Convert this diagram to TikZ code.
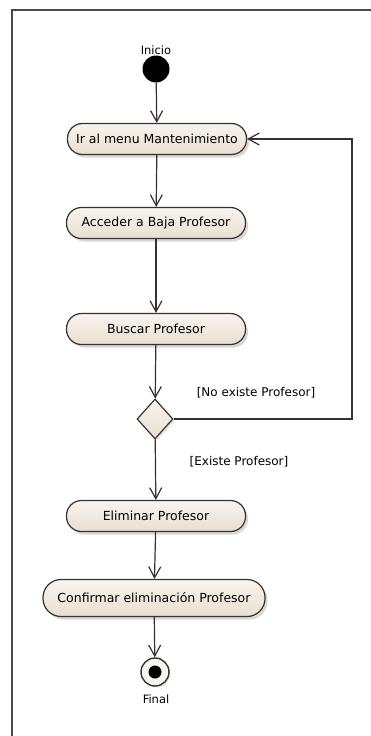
\documentclass[tikz,border=0pt]{standalone}
\usepackage{fontspec}
\setmainfont{DejaVu Sans}
\usetikzlibrary{arrows.meta,shapes.geometric,shadows}

\definecolor{inkline}{HTML}{333333}
\definecolor{beigetop}{HTML}{F8F4EE}
\definecolor{beigebot}{HTML}{E9DFCF}
\definecolor{framegray}{HTML}{4A4A4A}

\tikzset{
  action/.style={draw=inkline, line width=1.2pt, rounded corners=15pt,
    top color=beigetop, bottom color=beigebot,
    drop shadow={shadow xshift=2.5pt, shadow yshift=-3pt, fill=black!30},
    minimum width=179pt, minimum height=31pt, inner sep=0pt,
    font=\fontsize{12.5}{14}\selectfont},
  decision/.style={diamond, draw=inkline, line width=1.2pt,
    top color=beigetop, bottom color=beigebot,
    drop shadow={shadow xshift=2pt, shadow yshift=-2pt, fill=black!22},
    minimum width=36pt, minimum height=40pt, inner sep=0pt},
  flow/.style={draw=inkline, line width=1.2pt,
    -{Straight Barb[length=11pt, width=12pt, line width=1.2pt]}},
  guard/.style={font=\fontsize{12}{14}\selectfont, inner sep=1pt},
  caption/.style={font=\fontsize{11.5}{14}\selectfont, inner sep=1pt}
}

\begin{document}
\begin{tikzpicture}[x=1pt, y=-1pt]
  \useasboundingbox (0,0) rectangle (371,736);

  % diagram frame (open to the right and bottom)
  \draw[framegray, line width=1.6pt] (12,736) -- (12,10) -- (371,10);

  % initial node
  \node[circle, fill=black, minimum size=27pt, inner sep=0pt] (start) at (156,69) {};
  \node[caption] (startlbl) at (156,50) {Inicio};

  % actions
  \node[action] (act1) at (157,139) {Ir al menu Mantenimiento};
  \node[action] (act2) at (156,223) {Acceder a Baja Profesor};
  \node[action] (act3) at (156,329) {Buscar Profesor};
  \node[decision] (dec) at (155,419) {};
  \node[action] (act4) at (156,516) {Eliminar Profesor};
  \node[action, minimum width=222pt, minimum height=37pt, rounded corners=18pt]
    (act5) at (154,598) {Confirmar eliminación Profesor};

  % final node
  \node[circle, draw=inkline, line width=1.4pt, fill=beigetop,
        drop shadow={shadow xshift=1.5pt, shadow yshift=-1.5pt, fill=black!20},
        minimum size=28pt, inner sep=0pt] (final) at (155,672) {};
  \fill[black] (final.center) circle (6.5pt);
  \node[caption] (finallbl) at (156,699) {Final};

  % control flow
  \draw[flow] (start) -- (act1);
  \draw[flow] (act1) -- (act2);
  \draw[flow] (act2) -- (act3);
  \draw[flow] (act3) -- (dec);
  \draw[flow] (dec) -- (act4);
  \draw[flow] (act4) -- (act5);
  \draw[flow] (act5) -- (final);

  % loop back when the professor is not found
  \coordinate (loopB) at (352,419);
  \coordinate (loopT) at (352,139);
  \draw[flow] (dec.east) -- (loopB) -- (loopT) -- (act1.east);

  % guards
  \node[guard] (gNo) at (256,393) {[No existe Profesor]};
  \node[guard] (gYes) at (239,462) {[Existe Profesor]};
\end{tikzpicture}
\end{document}
